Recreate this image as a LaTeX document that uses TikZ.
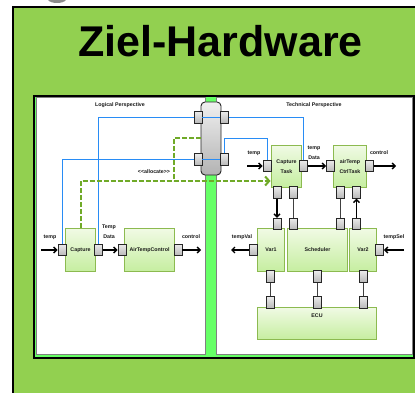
\documentclass[tikz,border=0pt]{standalone}
\usepackage{fontspec}
\setmainfont{Liberation Sans}
\usetikzlibrary{arrows.meta,shadows}
\definecolor{hwgreen}{RGB}{146,208,80}
\definecolor{barGreen}{RGB}{102,255,102}
\definecolor{boxtop}{RGB}{240,250,228}
\definecolor{boxbot}{RGB}{198,238,160}
\definecolor{boxline}{RGB}{140,186,80}
\definecolor{wireblue}{RGB}{40,140,245}
\definecolor{allocgreen}{RGB}{112,170,40}

\begin{document}
\begin{tikzpicture}[
  x=1pt,y=-1pt,
  every node/.style={font=\fontsize{5.3}{6.3}\selectfont\bfseries,inner sep=0pt,align=center,text=black!90},
  blockbox/.style={draw=boxline,line width=1pt,top color=boxtop,bottom color=boxbot,anchor=north west,
    drop shadow={shadow xshift=0.7pt,shadow yshift=-0.7pt,opacity=0.35}},
  portbox/.style={draw=black!85,line width=0.9pt,top color=black!8,bottom color=black!28,minimum width=8pt,minimum height=11.5pt},
  busbox/.style={draw=black!85,line width=0.9pt,rounded corners=4pt,top color=black!6,bottom color=black!30,minimum width=20pt,minimum height=73pt},
  arr/.style={->,>={Straight Barb[length=3pt,width=6pt]},line width=1.3pt,black},
  link/.style={line width=1pt,black!75},
  wire/.style={line width=0.9pt,wireblue},
  alloc/.style={line width=2pt,allocgreen,dash pattern=on 5pt off 2pt}
]
\useasboundingbox (0,0) rectangle (415,393);
\clip (0,0) rectangle (415,393);
% background
\fill[black!45] (48,0) .. controls (51,4) and (63,4) .. (66,0) -- cycle;
\fill[hwgreen] (13,7) rectangle (415,393);
\draw[black,line width=2.4pt] (13,393) -- (13,7) -- (415,7);
\node[font=\fontsize{43}{43}\selectfont\bfseries,text=black] (title) at (220.5,41) {Ziel-Hardware};
\draw[black,line width=2.4pt,fill=barGreen] (34,96) rectangle (414,358);
\draw[black!50,line width=0.5pt,fill=white] (36,97.5) rectangle (205.5,354);
\draw[black!50,line width=0.5pt,fill=white] (216.5,97.5) rectangle (412,354);
% Logical
\node (logical) at (120,105) {Logical Perspective};
\node[blockbox,minimum width=30pt,minimum height=43pt] (capture) at (65,228) {Capture};
\node[blockbox,minimum width=50pt,minimum height=43pt] (airctrl) at (124,228) {AirTempControl};
\node[portbox] (capL) at (62,250) {};
\node[portbox] (capR) at (98.5,250) {};
\node[portbox] (airL) at (122,250) {};
\node[portbox] (airR) at (178,250) {};
\coordinate (capIn) at (41,250);
\coordinate (airOut) at (201,250);
\draw[arr] (capIn) -- (capL.west);
\draw[arr] (capR.east) -- (airL.west);
\draw[arr] (airR.east) -- (airOut);
\node (lblTemp) at (50,237) {temp};
\node (lblData) at (109,232) {Temp\\[3.5pt]Data};
\node (lblCtrl) at (191,237) {control};
% Technical
\node (technical) at (314,105) {Technical Perspective};
\node[blockbox,minimum width=30pt,minimum height=42pt] (ctask) at (271,145) {Capture\\[3.5pt]Task};
\node[blockbox,minimum width=33pt,minimum height=42pt] (atask) at (333,145) {airTemp\\[3.5pt]CtrlTask};
\node[blockbox,minimum width=27pt,minimum height=43pt] (var1) at (257,228) {Var1};
\node[blockbox,minimum width=60pt,minimum height=43pt] (sched) at (287,228) {Scheduler};
\node[blockbox,minimum width=27pt,minimum height=43pt] (var2) at (349,228) {Var2};
\node[blockbox,minimum width=119pt,minimum height=32pt] (ecu) at (257,307) {};
\node (ecuLbl) at (317,316) {ECU};
% ports
\node[portbox] (ctL) at (267,166) {};
\node[portbox] (ctR) at (303.5,166) {};
\node[portbox] (atL) at (330.5,166) {};
\node[portbox] (atR) at (369.5,166) {};
\node[portbox] (ctB1) at (277,192.5) {};
\node[portbox] (ctB2) at (293.5,192.5) {};
\node[portbox] (atB1) at (340,192.5) {};
\node[portbox] (atB2) at (356.5,192.5) {};
\node[portbox] (v1T) at (277,224) {};
\node[portbox] (sT1) at (293.5,224) {};
\node[portbox] (sT2) at (340,224) {};
\node[portbox] (v2T) at (356.5,224) {};
\node[portbox] (v1L) at (253.5,250) {};
\node[portbox] (v2R) at (379.5,250) {};
\node[portbox] (v1B) at (270.5,276.5) {};
\node[portbox] (sB) at (317,276.5) {};
\node[portbox] (v2B) at (363,276.5) {};
\node[portbox] (ecuA) at (270.5,302.5) {};
\node[portbox] (ecuB) at (317,302.5) {};
\node[portbox] (ecuC) at (363,302.5) {};
\coordinate (ctIn) at (247,166);
\coordinate (atOut) at (396,166);
\coordinate (v1Out) at (231,250);
\coordinate (v2In) at (404,250);
\draw[arr] (ctIn) -- (ctL.west);
\draw[arr] (ctR.east) -- (atL.west);
\draw[arr] (atR.east) -- (atOut);
\draw[arr] (ctB1.south) -- (v1T.north);
\draw[link] (ctB2.south) -- (sT1.north);
\draw[link] (atB1.south) -- (sT2.north);
\draw[arr] (v2T.north) -- (atB2.south);
\draw[arr] (v1L.west) -- (v1Out);
\draw[arr] (v2In) -- (v2R.east);
\draw[link] (v1B.south) -- (ecuA.north);
\draw[link] (sB.south) -- (ecuB.north);
\draw[link] (v2B.south) -- (ecuC.north);
\node (lblTemp2) at (254,153) {temp};
\node (lblData2) at (314,153) {temp\\[3.5pt]Data};
\node (lblCtrl2) at (379,153) {control};
\node (lblVal) at (242,237) {tempVal};
\node (lblSel) at (394,237) {tempSel};
% bus
\node[busbox] (bus) at (211,138.5) {};
\node[portbox] (busLa) at (198,117.5) {};
\node[portbox] (busLb) at (198,159.5) {};
\node[portbox] (busRa) at (224.5,117.5) {};
\node[portbox] (busRb) at (224.5,159.5) {};
\draw[wire] (busLa.east) -- (busRa.west);
\draw[wire] (busLb.east) -- (busRb.west);
\draw[wire] (busLa.west) -| (capR.north);
\draw[wire] (busLb.west) -| (capL.north);
\draw[wire] (busRa.east) -| (ctR.north);
\coordinate (wireTurn) at (267,138);
\draw[wire] (busRb.north) |- (wireTurn) -- (ctL.north);
% allocate
\coordinate (busAlloc) at (201,138);
\coordinate (allocJoin) at (174,181);
\coordinate (allocEnd) at (270.5,181);
\draw[alloc] (busAlloc) -| (allocJoin);
\draw[alloc,->,>={Straight Barb[length=4pt,width=9pt]}] (capture.north) |- (allocEnd);
\node (lblAlloc) at (154,172) {<{}<allocate>{}>};
\end{tikzpicture}
\end{document}
